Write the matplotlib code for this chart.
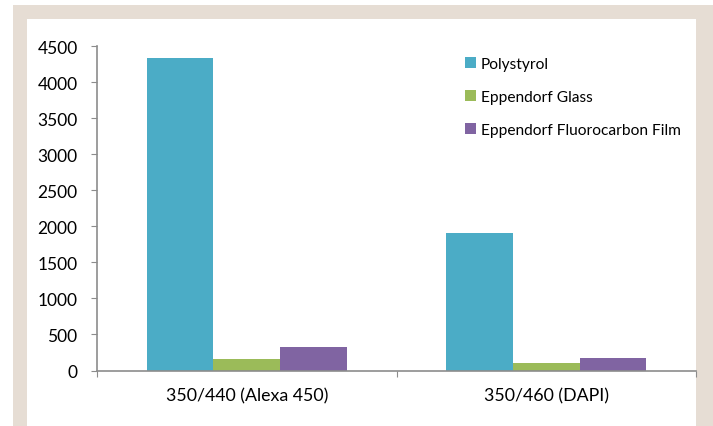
import numpy as np
import matplotlib
matplotlib.use("Agg")
import matplotlib.pyplot as plt
from matplotlib.patches import Rectangle

plt.rcParams['font.family'] = ['Lato', 'DejaVu Sans']

# data
categories = ['350/440 (Alexa 450)', '350/460 (DAPI)']
series_names = ['Polystyrol', 'Eppendorf Glass', 'Eppendorf Fluorocarbon Film']
polystyrol = [4340, 1900]
glass = [160, 100]
film = [320, 180]
colors = ['#4BACC6', '#9BBB59', '#8064A2']

W, H = 713, 427
fig = plt.figure(figsize=(W / 100, H / 100), dpi=100)

# beige frame around white panel (pixel coords -> figure fraction)
def px_rect(x0, y0, x1, y1, color, z):
    r = Rectangle((x0 / W, 1 - y1 / H), (x1 - x0) / W, (y1 - y0) / H,
                  transform=fig.transFigure, facecolor=color, edgecolor='none', zorder=z)
    fig.patches.append(r)

px_rect(13, 6, 713, 427, '#E6DDD4', -3)
px_rect(27, 20, 696, 427, 'white', -2)

# axes placed to match the plot area
ax_left, ax_right, ax_top, ax_bot = 97, 696, 47, 371.5
ax = fig.add_axes([ax_left / W, 1 - ax_bot / H, (ax_right - ax_left) / W, (ax_bot - ax_top) / H])
ax.patch.set_alpha(0)

x = np.arange(len(categories))
w = 0.223
for i, (vals, name) in enumerate(zip([polystyrol, glass, film], series_names)):
    ax.bar(x + (i - 1) * w, vals, w, color=colors[i], label=name, zorder=2)

ax.set_xlim(-0.5, -0.5 + (ax_right - ax_left) / 312)
ax.set_ylim(0, 4500)
ax.set_yticks(np.arange(0, 4501, 500))

ax.set_xticks(x)
ax.set_xticklabels(categories, fontsize=12.8)
ax.set_xticks([-0.5, 0.5, 1.5], minor=True)
ax.tick_params(axis='x', which='major', length=0, pad=12)
ax.tick_params(axis='x', which='minor', length=4, color='#8C8C8C', width=0.8)
ax.tick_params(axis='y', length=4, color='#8C8C8C', width=0.8, pad=10, labelsize=12.5)

for s in ['top', 'right']:
    ax.spines[s].set_visible(False)
for s in ['left', 'bottom']:
    ax.spines[s].set_color('#8C8C8C')
    ax.spines[s].set_linewidth(1.2)

ax.legend(loc='upper left', bbox_to_anchor=(459 / W, 1 - 52 / H), bbox_transform=fig.transFigure,
          frameon=False, fontsize=11.2, handlelength=0.7, handleheight=0.7,
          handletextpad=0.3, labelspacing=1.2, borderaxespad=0)

fig.savefig('out.png', dpi=100)
